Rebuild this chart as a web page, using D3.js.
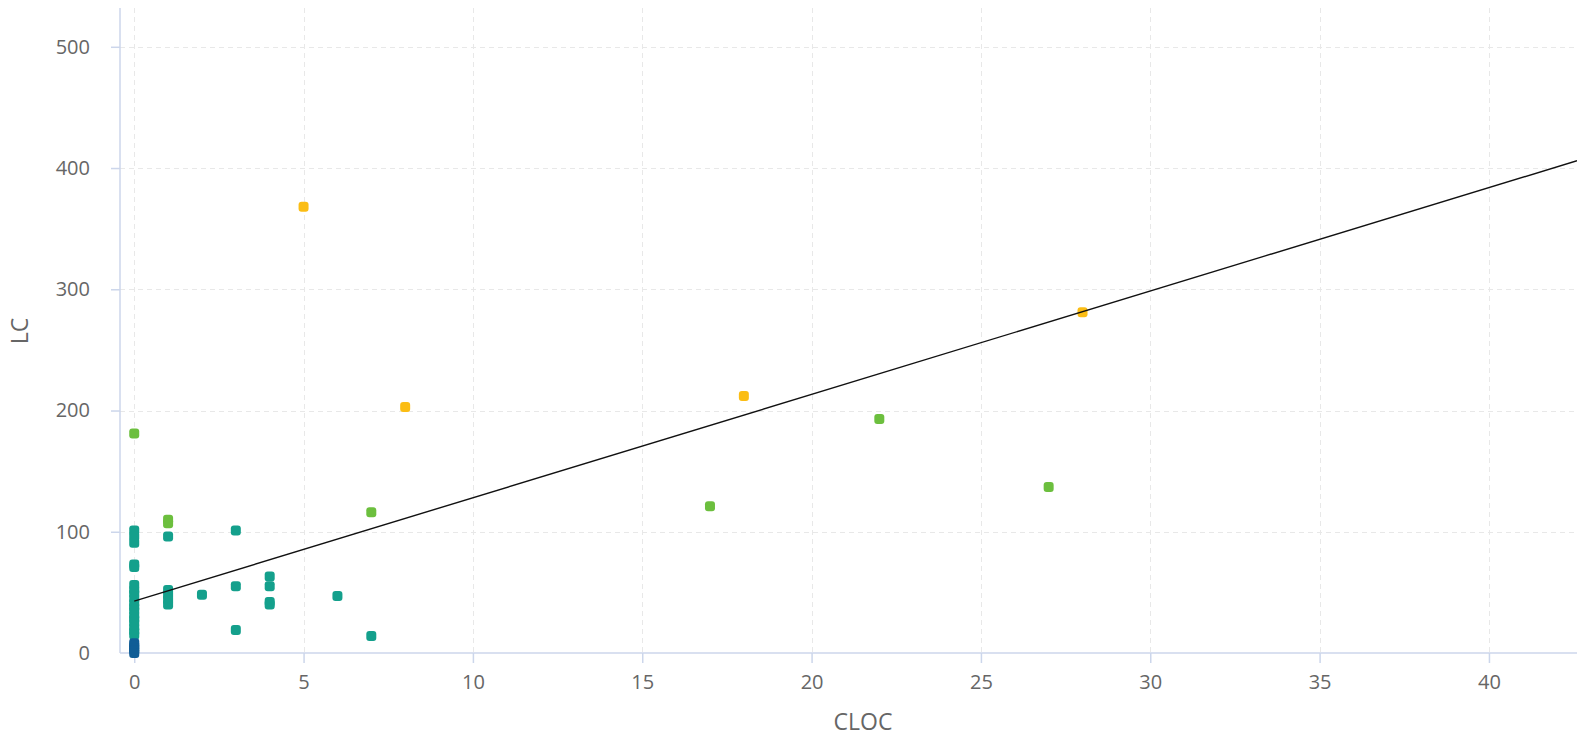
<!DOCTYPE html>
<html>
<head>
<meta charset="utf-8">
<script src="https://cdn.jsdelivr.net/npm/d3@7"></script>
<style>
  html, body { margin: 0; padding: 0; background: #fff; }
  svg { display: block; }
  text { font-family: "Open Sans", "DejaVu Sans", sans-serif; fill: #666; }
</style>
</head>
<body>
<svg id="chart" width="1577" height="736"></svg>
<script>
// ---- data ----
const xTicks = [0, 5, 10, 15, 20, 25, 30, 35, 40];
const yTicks = [0, 100, 200, 300, 400, 500];

const yellowX = [5, 8, 18, 28];
const yellowY = [368, 203, 212, 281];

const greenX = [0, 1, 1, 7, 17, 22, 27];
const greenY = [181, 110, 107, 116, 121, 193, 137];

const tealX = [0, 0, 0, 0, 0, 0, 0, 0, 0, 0, 0, 0, 0, 0, 0, 0, 0, 0,
               1, 1, 1, 1, 1, 2, 3, 3, 3, 4, 4, 4, 4, 6, 7];
const tealY = [101, 96, 91, 73, 71, 56, 52, 49, 45, 41, 38, 35, 31, 28, 25, 21, 18, 15,
               96, 52, 48, 44, 40, 48, 101, 55, 19, 63, 55, 42, 40, 47, 14];

const blueX = [0, 0, 0, 0, 0];
const blueY = [8, 6, 4, 2, 0];

const trendX = [0, 42.6];
const trendY = [42.8, 406];

const xTitle = "CLOC";
const yTitle = "LC";

// ---- layout ----
const svg = d3.select("#chart");
const plotLeft = 120, plotRight = 1577, plotTop = 8, plotBottom = 653;

const x = d3.scaleLinear().domain([-0.42, 42.6]).range([plotLeft, plotRight]);
const y = d3.scaleLinear().domain([0, 532]).range([plotBottom, plotTop]);

// grid
const grid = svg.append("g");
grid.selectAll("line.v").data(xTicks).join("line")
  .attr("x1", d => Math.round(x(d)) + 0.5).attr("x2", d => Math.round(x(d)) + 0.5)
  .attr("y1", plotTop).attr("y2", plotBottom)
  .attr("stroke", "#e8e8e8").attr("stroke-width", 1).attr("stroke-dasharray", "5,4");
grid.selectAll("line.h").data(yTicks.filter(d => d > 0)).join("line")
  .attr("x1", plotLeft).attr("x2", plotRight)
  .attr("y1", d => Math.round(y(d)) + 0.5).attr("y2", d => Math.round(y(d)) + 0.5)
  .attr("stroke", "#e8e8e8").attr("stroke-width", 1).attr("stroke-dasharray", "5,4");

// axes
const axisColor = "#ccd6eb";
const xAxis = svg.append("g").attr("transform", `translate(0,${plotBottom})`)
  .call(d3.axisBottom(x).tickValues(xTicks).tickSize(10).tickPadding(12));
const yAxis = svg.append("g").attr("transform", `translate(${plotLeft},0)`)
  .call(d3.axisLeft(y).tickValues(yTicks).tickSize(9).tickPadding(21));
[xAxis, yAxis].forEach(g => {
  g.select(".domain").attr("stroke", axisColor).attr("stroke-width", 1.5);
  g.selectAll(".tick line").attr("stroke", axisColor).attr("stroke-width", 1.5);
  g.selectAll(".tick text").attr("fill", "#666").attr("font-size", 20)
    .attr("font-family", '"Open Sans", "DejaVu Sans", sans-serif');
});
xAxis.select(".domain").attr("d", `M${plotLeft},0H${plotRight}`);
yAxis.select(".domain").attr("d", `M0,${plotTop}V${plotBottom}`);
yAxis.selectAll(".tick").filter(d => d === 0).select("line").remove();

// titles
svg.append("text").attr("x", 863).attr("y", 730)
  .attr("text-anchor", "middle").attr("font-size", 23).text(xTitle);
svg.append("text").attr("transform", "translate(28,331) rotate(-90)")
  .attr("text-anchor", "middle").attr("font-size", 23).text(yTitle);

// points
const pts = svg.append("g");
function drawSeries(xs, ys, color) {
  const data = xs.map((v, i) => [v, ys[i]]);
  pts.append("g").selectAll("rect").data(data).join("rect")
    .attr("x", d => x(d[0]) - 5).attr("y", d => y(d[1]) - 5)
    .attr("width", 10).attr("height", 10).attr("rx", 3)
    .attr("fill", color);
}
drawSeries(tealX, tealY, "#14a08c");
drawSeries(blueX, blueY, "#105d96");
drawSeries(greenX, greenY, "#6cbf3e");
drawSeries(yellowX, yellowY, "#fbbd14");

// trend line
const trend = trendX.map((v, i) => [v, trendY[i]]);
svg.append("path").datum(trend)
  .attr("d", d3.line().x(d => x(d[0])).y(d => y(d[1])))
  .attr("fill", "none").attr("stroke", "#111").attr("stroke-width", 1.4);
</script>
</body>
</html>
